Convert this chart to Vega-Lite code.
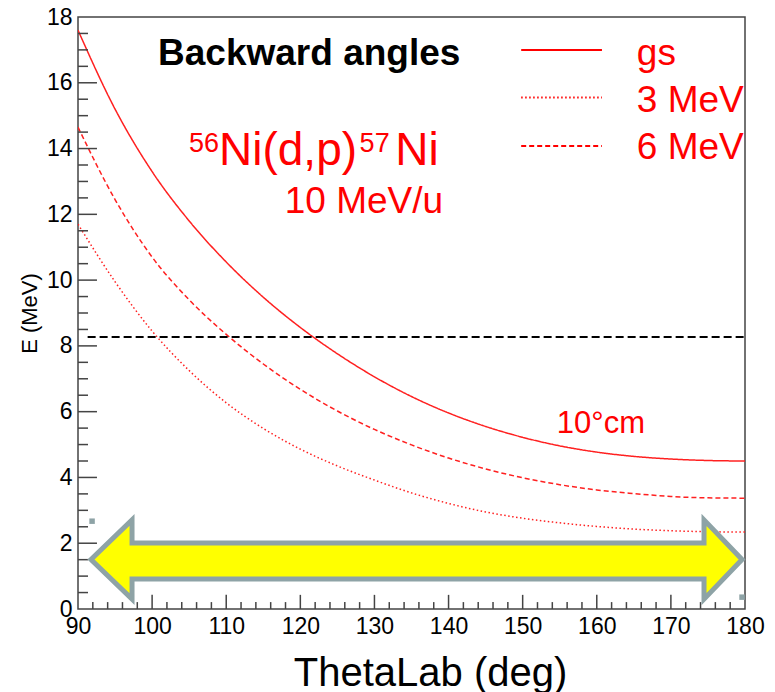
{
  "$schema": "https://vega.github.io/schema/vega-lite/v6.json",
  "width": 667,
  "height": 592,
  "autosize": {"type": "none"},
  "padding": {"left": 78, "top": 17, "right": 30, "bottom": 83},
  "background": "white",
  "config": {"view": {"stroke": "#444444", "strokeWidth": 1.5}, "font": "Liberation Sans"},
  "data": {"values": [{}]},
  "datasets": {
    "curves": [
      {"series": "gs", "theta": 90, "E": 17.6}, {"series": "gs", "theta": 95, "E": 15.2}, {"series": "gs", "theta": 100, "E": 13.3},
      {"series": "gs", "theta": 105, "E": 11.8}, {"series": "gs", "theta": 110, "E": 10.55}, {"series": "gs", "theta": 115, "E": 9.48},
      {"series": "gs", "theta": 120, "E": 8.56}, {"series": "gs", "theta": 125, "E": 7.76}, {"series": "gs", "theta": 130, "E": 7.06},
      {"series": "gs", "theta": 135, "E": 6.46}, {"series": "gs", "theta": 140, "E": 5.96}, {"series": "gs", "theta": 145, "E": 5.55},
      {"series": "gs", "theta": 150, "E": 5.22}, {"series": "gs", "theta": 155, "E": 4.96}, {"series": "gs", "theta": 160, "E": 4.77},
      {"series": "gs", "theta": 165, "E": 4.64}, {"series": "gs", "theta": 170, "E": 4.56}, {"series": "gs", "theta": 175, "E": 4.515},
      {"series": "gs", "theta": 180, "E": 4.5},
      {"series": "6 MeV", "theta": 90, "E": 14.65}, {"series": "6 MeV", "theta": 95, "E": 12.45}, {"series": "6 MeV", "theta": 100, "E": 10.7},
      {"series": "6 MeV", "theta": 105, "E": 9.4}, {"series": "6 MeV", "theta": 110, "E": 8.35}, {"series": "6 MeV", "theta": 115, "E": 7.45},
      {"series": "6 MeV", "theta": 120, "E": 6.68}, {"series": "6 MeV", "theta": 125, "E": 6.02}, {"series": "6 MeV", "theta": 130, "E": 5.46},
      {"series": "6 MeV", "theta": 135, "E": 4.99}, {"series": "6 MeV", "theta": 140, "E": 4.59}, {"series": "6 MeV", "theta": 145, "E": 4.26},
      {"series": "6 MeV", "theta": 150, "E": 3.99}, {"series": "6 MeV", "theta": 155, "E": 3.78}, {"series": "6 MeV", "theta": 160, "E": 3.62},
      {"series": "6 MeV", "theta": 165, "E": 3.51}, {"series": "6 MeV", "theta": 170, "E": 3.42}, {"series": "6 MeV", "theta": 175, "E": 3.38},
      {"series": "6 MeV", "theta": 180, "E": 3.37},
      {"series": "3 MeV", "theta": 90, "E": 11.7}, {"series": "3 MeV", "theta": 95, "E": 9.95}, {"series": "3 MeV", "theta": 100, "E": 8.45},
      {"series": "3 MeV", "theta": 105, "E": 7.25}, {"series": "3 MeV", "theta": 110, "E": 6.27}, {"series": "3 MeV", "theta": 115, "E": 5.49},
      {"series": "3 MeV", "theta": 120, "E": 4.86}, {"series": "3 MeV", "theta": 125, "E": 4.35}, {"series": "3 MeV", "theta": 130, "E": 3.92},
      {"series": "3 MeV", "theta": 135, "E": 3.53}, {"series": "3 MeV", "theta": 140, "E": 3.21}, {"series": "3 MeV", "theta": 145, "E": 2.95},
      {"series": "3 MeV", "theta": 150, "E": 2.76}, {"series": "3 MeV", "theta": 155, "E": 2.62}, {"series": "3 MeV", "theta": 160, "E": 2.51},
      {"series": "3 MeV", "theta": 165, "E": 2.43}, {"series": "3 MeV", "theta": 170, "E": 2.38}, {"series": "3 MeV", "theta": 175, "E": 2.35},
      {"series": "3 MeV", "theta": 180, "E": 2.34}
    ],
    "arrow": [
      {"i": 0, "theta": 91.75, "E": 1.505}, {"i": 1, "theta": 97.29, "E": 2.71}, {"i": 2, "theta": 97.29, "E": 2.01},
      {"i": 3, "theta": 174.47, "E": 2.01}, {"i": 4, "theta": 174.47, "E": 2.71}, {"i": 5, "theta": 179.6, "E": 1.505},
      {"i": 6, "theta": 174.47, "E": 0.3}, {"i": 7, "theta": 174.47, "E": 0.91}, {"i": 8, "theta": 97.29, "E": 0.91},
      {"i": 9, "theta": 97.29, "E": 0.3}
    ],
    "specks": [{"theta": 91.9, "E": 2.67}, {"theta": 179.6, "E": 0.36}],
    "xmajor": [{"v": 100}, {"v": 110}, {"v": 120}, {"v": 130}, {"v": 140}, {"v": 150}, {"v": 160}, {"v": 170}],
    "xminor": [{"v": 92}, {"v": 94}, {"v": 96}, {"v": 98}, {"v": 102}, {"v": 104}, {"v": 106}, {"v": 108}, {"v": 112}, {"v": 114}, {"v": 116}, {"v": 118},
      {"v": 122}, {"v": 124}, {"v": 126}, {"v": 128}, {"v": 132}, {"v": 134}, {"v": 136}, {"v": 138}, {"v": 142}, {"v": 144}, {"v": 146}, {"v": 148},
      {"v": 152}, {"v": 154}, {"v": 156}, {"v": 158}, {"v": 162}, {"v": 164}, {"v": 166}, {"v": 168}, {"v": 172}, {"v": 174}, {"v": 176}, {"v": 178}],
    "ymajor": [{"v": 2}, {"v": 4}, {"v": 6}, {"v": 8}, {"v": 10}, {"v": 12}, {"v": 14}, {"v": 16}],
    "yminor": [{"v": 0.5}, {"v": 1}, {"v": 1.5}, {"v": 2.5}, {"v": 3}, {"v": 3.5}, {"v": 4.5}, {"v": 5}, {"v": 5.5}, {"v": 6.5}, {"v": 7}, {"v": 7.5},
      {"v": 8.5}, {"v": 9}, {"v": 9.5}, {"v": 10.5}, {"v": 11}, {"v": 11.5}, {"v": 12.5}, {"v": 13}, {"v": 13.5}, {"v": 14.5}, {"v": 15}, {"v": 15.5},
      {"v": 16.5}, {"v": 17}, {"v": 17.5}]
  },
  "resolve": {"axis": {"x": "independent", "y": "independent"}},
  "layer": [
    {
      "data": {"name": "curves"},
      "mark": {"type": "line", "interpolate": "monotone", "strokeWidth": 1.5, "color": "#ff2020", "clip": true},
      "encoding": {
        "x": {
          "field": "theta", "type": "quantitative",
          "scale": {"domain": [90, 180], "nice": false, "zero": false},
          "axis": {
            "orient": "bottom", "title": "ThetaLab (deg)", "format": "d",
            "values": [90, 100, 110, 120, 130, 140, 150, 160, 170, 180],
            "ticks": false, "domain": false, "grid": false,
            "labelFontSize": 23, "labelColor": "black", "labelPadding": 6,
            "labelFlush": false, "labelOverlap": false, "labelBound": false,
            "titleFontSize": 40, "titleFontWeight": "normal", "titleColor": "black",
            "titleX": 352, "titleY": 76, "titleBaseline": "alphabetic", "titleAlign": "center"
          }
        },
        "y": {
          "field": "E", "type": "quantitative",
          "scale": {"domain": [0, 18], "nice": false, "zero": false},
          "axis": {
            "orient": "left", "title": "E (MeV)", "format": "d",
            "values": [0, 2, 4, 6, 8, 10, 12, 14, 16, 18],
            "ticks": false, "domain": false, "grid": false,
            "labelFontSize": 23, "labelColor": "black", "labelPadding": 6,
            "labelFlush": false, "labelOverlap": false, "labelBound": false,
            "titleFontSize": 22, "titleFontWeight": "normal", "titleColor": "black",
            "titleAngle": 270, "titleX": -49, "titleY": 296, "titleAlign": "center", "titleBaseline": "middle"
          }
        },
        "detail": {"field": "series"},
        "strokeDash": {
          "field": "series", "type": "nominal",
          "scale": {"domain": ["gs", "3 MeV", "6 MeV"], "range": [[1, 0], [1.5, 2.5], [5, 3]]},
          "legend": null
        }
      }
    },
    {
      "data": {"name": "xmajor"},
      "mark": {"type": "rule", "color": "#444444", "strokeWidth": 1.5},
      "encoding": {
        "x": {"field": "v", "type": "quantitative", "axis": null},
        "y": {"datum": 0, "type": "quantitative", "axis": null},
        "y2": {"datum": 0.43}
      }
    },
    {
      "data": {"name": "xminor"},
      "mark": {"type": "rule", "color": "#444444", "strokeWidth": 1.5},
      "encoding": {
        "x": {"field": "v", "type": "quantitative", "axis": null},
        "y": {"datum": 0, "type": "quantitative", "axis": null},
        "y2": {"datum": 0.21}
      }
    },
    {
      "data": {"name": "ymajor"},
      "mark": {"type": "rule", "color": "#444444", "strokeWidth": 1.5},
      "encoding": {
        "y": {"field": "v", "type": "quantitative", "axis": null},
        "x": {"datum": 90, "type": "quantitative", "axis": null},
        "x2": {"datum": 92.56}
      }
    },
    {
      "data": {"name": "yminor"},
      "mark": {"type": "rule", "color": "#444444", "strokeWidth": 1.5},
      "encoding": {
        "y": {"field": "v", "type": "quantitative", "axis": null},
        "x": {"datum": 90, "type": "quantitative", "axis": null},
        "x2": {"datum": 91.35}
      }
    },
    {
      "mark": {"type": "rule", "color": "black", "strokeWidth": 2, "strokeDash": [8, 4]},
      "encoding": {
        "x": {"datum": 91.3, "type": "quantitative", "axis": null},
        "x2": {"datum": 180},
        "y": {"datum": 8.27, "type": "quantitative", "axis": null}
      }
    },
    {
      "data": {"name": "arrow"},
      "mark": {"type": "line", "interpolate": "linear-closed", "fill": "#ffff00", "stroke": "#8ea3a6", "strokeWidth": 5, "strokeJoin": "miter"},
      "encoding": {
        "x": {"field": "theta", "type": "quantitative", "axis": null},
        "y": {"field": "E", "type": "quantitative", "axis": null},
        "order": {"field": "i", "type": "quantitative"}
      }
    },
    {
      "data": {"name": "specks"},
      "mark": {"type": "square", "size": 30, "color": "#8ea3a6", "opacity": 1, "filled": true},
      "encoding": {
        "x": {"field": "theta", "type": "quantitative", "axis": null},
        "y": {"field": "E", "type": "quantitative", "axis": null}
      }
    },
    {
      "mark": {"type": "text", "text": "Backward angles", "fontSize": 37, "fontWeight": "bold", "color": "black", "align": "left", "baseline": "alphabetic"},
      "encoding": {"x": {"datum": 100.8, "type": "quantitative", "axis": null}, "y": {"datum": 16.54, "type": "quantitative", "axis": null}}
    },
    {
      "mark": {"type": "text", "text": "56", "fontSize": 27, "color": "#ff0000", "align": "left", "baseline": "alphabetic"},
      "encoding": {"x": {"datum": 104.98, "type": "quantitative", "axis": null}, "y": {"datum": 13.9, "type": "quantitative", "axis": null}}
    },
    {
      "mark": {"type": "text", "text": "Ni(d,p)", "fontSize": 46, "color": "#ff0000", "align": "left", "baseline": "alphabetic"},
      "encoding": {"x": {"datum": 109.03, "type": "quantitative", "axis": null}, "y": {"datum": 13.5, "type": "quantitative", "axis": null}}
    },
    {
      "mark": {"type": "text", "text": "57", "fontSize": 27, "color": "#ff0000", "align": "left", "baseline": "alphabetic"},
      "encoding": {"x": {"datum": 128.0, "type": "quantitative", "axis": null}, "y": {"datum": 13.9, "type": "quantitative", "axis": null}}
    },
    {
      "mark": {"type": "text", "text": "Ni", "fontSize": 46, "color": "#ff0000", "align": "left", "baseline": "alphabetic"},
      "encoding": {"x": {"datum": 132.8, "type": "quantitative", "axis": null}, "y": {"datum": 13.5, "type": "quantitative", "axis": null}}
    },
    {
      "mark": {"type": "text", "text": "10 MeV/u", "fontSize": 37, "color": "#ff0000", "align": "left", "baseline": "alphabetic"},
      "encoding": {"x": {"datum": 117.9, "type": "quantitative", "axis": null}, "y": {"datum": 12.04, "type": "quantitative", "axis": null}}
    },
    {
      "mark": {"type": "text", "text": "10°cm", "fontSize": 31, "color": "#ff0000", "align": "left", "baseline": "alphabetic"},
      "encoding": {"x": {"datum": 154.6, "type": "quantitative", "axis": null}, "y": {"datum": 5.35, "type": "quantitative", "axis": null}}
    },
    {
      "mark": {"type": "rule", "color": "#ff0000", "strokeWidth": 2},
      "encoding": {
        "x": {"datum": 149.8, "type": "quantitative", "axis": null}, "x2": {"datum": 160.7},
        "y": {"datum": 17.0, "type": "quantitative", "axis": null},
        "strokeDash": {"datum": "gs", "type": "nominal", "legend": null}
      }
    },
    {
      "mark": {"type": "rule", "color": "#ff0000", "strokeWidth": 2},
      "encoding": {
        "x": {"datum": 149.8, "type": "quantitative", "axis": null}, "x2": {"datum": 160.7},
        "y": {"datum": 15.55, "type": "quantitative", "axis": null},
        "strokeDash": {"datum": "3 MeV", "type": "nominal", "legend": null}
      }
    },
    {
      "mark": {"type": "rule", "color": "#ff0000", "strokeWidth": 2},
      "encoding": {
        "x": {"datum": 149.8, "type": "quantitative", "axis": null}, "x2": {"datum": 160.7},
        "y": {"datum": 14.08, "type": "quantitative", "axis": null},
        "strokeDash": {"datum": "6 MeV", "type": "nominal", "legend": null}
      }
    },
    {
      "mark": {"type": "text", "text": "gs", "fontSize": 37, "color": "#ff0000", "align": "left", "baseline": "alphabetic"},
      "encoding": {"x": {"datum": 165.4, "type": "quantitative", "axis": null}, "y": {"datum": 16.54, "type": "quantitative", "axis": null}}
    },
    {
      "mark": {"type": "text", "text": "3 MeV", "fontSize": 37, "color": "#ff0000", "align": "left", "baseline": "alphabetic"},
      "encoding": {"x": {"datum": 165.4, "type": "quantitative", "axis": null}, "y": {"datum": 15.12, "type": "quantitative", "axis": null}}
    },
    {
      "mark": {"type": "text", "text": "6 MeV", "fontSize": 37, "color": "#ff0000", "align": "left", "baseline": "alphabetic"},
      "encoding": {"x": {"datum": 165.4, "type": "quantitative", "axis": null}, "y": {"datum": 13.68, "type": "quantitative", "axis": null}}
    }
  ]
}
